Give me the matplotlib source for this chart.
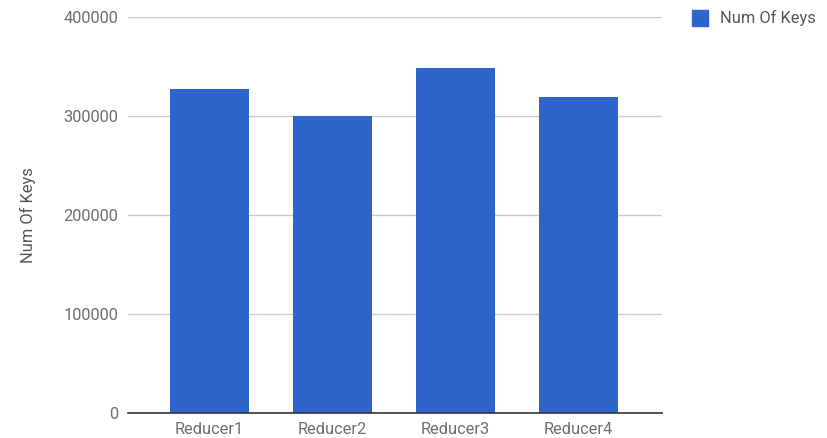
import matplotlib
matplotlib.use("Agg")
import matplotlib.pyplot as plt
from matplotlib.patches import Rectangle

categories = ["Reducer1", "Reducer2", "Reducer3", "Reducer4"]
num_keys = [327000, 300000, 348500, 319500]
y_ticks = [0, 100000, 200000, 300000, 400000]
series_name = "Num Of Keys"

plt.rcParams['font.family'] = ['Roboto', 'DejaVu Sans']

W, H = 828, 438
fig = plt.figure(figsize=(W / 100, H / 100), dpi=100)
ax = fig.add_axes([128 / W, 1 - 412.7 / H, (662 - 128) / W, (412.7 - 17) / H])

bar_color = "#2E64CB"
text_color = "#6E6E6E"
fs = 11.8
x = list(range(len(categories)))
ax.bar(x, num_keys, width=0.642, color=bar_color, zorder=3)

ax.set_xlim(-0.663, 3.68)
ax.set_ylim(0, 400000)
ax.set_yticks(y_ticks)
ax.set_yticklabels([str(v) for v in y_ticks])
ax.set_xticks(x)
ax.set_xticklabels(categories)
ax.tick_params(axis='both', length=0, labelsize=fs, colors=text_color)
ax.tick_params(axis='y', pad=7)
ax.tick_params(axis='x', pad=6.5)
ax.grid(axis='y', color="#cccccc", linewidth=1, zorder=0)
for s in ["top", "right", "left"]:
    ax.spines[s].set_visible(False)
ax.spines["bottom"].set_color("#333333")
ax.spines["bottom"].set_linewidth(1.2)
ax.spines["bottom"].set_zorder(4)

ax.set_ylabel(series_name, fontsize=fs, color="#555555")
ax.yaxis.set_label_coords(-(128 - 36) / (662 - 128), 0.5)

# legend
fig.patches.append(Rectangle((692 / W, 1 - 26 / H), 16 / W, 16 / H,
                             transform=fig.transFigure, color=bar_color, figure=fig))
fig.text(720 / W, 1 - 18 / H, series_name, fontsize=fs, color="#555555",
         va="center", ha="left")

fig.savefig("out.png", dpi=100)
